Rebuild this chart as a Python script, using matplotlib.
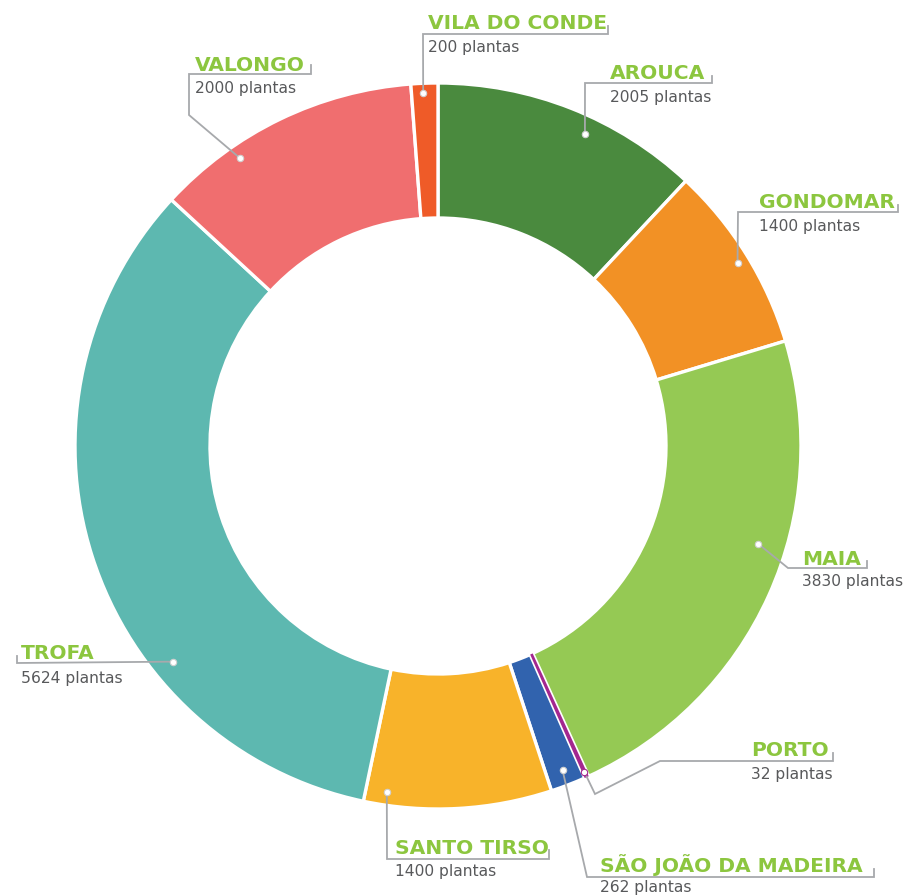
from matplotlib import pyplot as plt
import numpy as np

# plantings per municipality, clockwise from the top
municipios = ["AROUCA", "GONDOMAR", "MAIA", "PORTO", "SÃO JOÃO DA MADEIRA",
              "SANTO TIRSO", "TROFA", "VALONGO", "VILA DO CONDE"]
plantas = [2005, 1400, 3830, 32, 262, 1400, 5624, 2000, 200]
cores = ["#4a8a3e", "#f29125", "#95c954", "#a3278f", "#3163ae",
         "#f8b32a", "#5db8b0", "#f06e6f", "#ef5b28"]

W, H = 906, 896
cx, cy = 438, 446          # donut centre (pixels from top-left)
r_out, r_in = 363, 228

# label layout in pixels: dot (fraction along slice, radius), route of the
# leader line after the dot, text x, title baseline, value baseline
layout = {
    "AROUCA":        (0.585, 345, [(585, 83), (712, 83), (712, 76)], 610, 79, 102),
    "GONDOMAR":      (0.515, 351, [(738, 212), (898, 212), (898, 205)], 759, 208, 231),
    "MAIA":          (0.411, 335, [(788, 568), (867, 568), (867, 561)], 802, 565, 586),
    "PORTO":         (0.5, 357, [(595, 794), (660, 761), (833, 761), (833, 753)], 751, 756, 779),
    "SÃO JOÃO DA MADEIRA": (0.5, 347, [(587, 877), (874, 877), (874, 869)], 600, 872, 892),
    "SANTO TIRSO":   (0.885, 350, [(387, 859), (549, 859), (549, 850)], 395, 854, 876),
    "TROFA":         (0.323, 342, [(17, 663), (17, 656)], 21, 659, 683),
    "VALONGO":       (0.297, 349, [(189, 115), (189, 74), (311, 74), (311, 65)], 195, 71, 93),
    "VILA DO CONDE": (0.44, 353, [(423, 34), (608, 34), (608, 26)], 428, 29, 52),
}

verde = "#8cc63f"
cinza_txt = "#58595b"
cinza_linha = "#a7a9ac"

fig = plt.figure(figsize=(W / 100, H / 100), dpi=100)
ax = fig.add_axes([0, 0, 1, 1])

wedges, _ = ax.pie(plantas, colors=cores, startangle=90, counterclock=False,
                   radius=r_out, center=(cx, H - cy),
                   wedgeprops=dict(width=r_out - r_in, edgecolor="white", linewidth=2.4))
# keep the tiny Porto slice visible
wedges[3].set_linewidth(0)
wedges[3].set_zorder(5)

ax.set_xlim(0, W)
ax.set_ylim(0, H)
ax.set_aspect("equal")
ax.axis("off")

for w, nome, val in zip(wedges, municipios, plantas):
    frac, rad, route, tx, tb, vb = layout[nome]
    ang = np.deg2rad(w.theta2 - frac * (w.theta2 - w.theta1))
    dx = cx + rad * np.cos(ang)
    dy = H - cy + rad * np.sin(ang)
    xs = [dx] + [p[0] for p in route]
    ys = [dy] + [H - p[1] for p in route]
    ax.plot(xs, ys, color=cinza_linha, lw=1.3, zorder=6, solid_joinstyle="miter")
    ax.plot(dx, dy, "o", ms=4.6, mfc="white", mec="#d0d0d0" if nome != "PORTO" else cores[3],
            mew=0.8, zorder=7)
    ax.text(tx, H - tb, nome, color=verde, fontsize=14.6, fontweight="bold",
            family="DejaVu Sans", va="baseline", ha="left", zorder=8)
    ax.text(tx, H - vb, f"{val} plantas", color=cinza_txt, fontsize=11.2,
            family="DejaVu Sans", va="baseline", ha="left", zorder=8)

fig.savefig("out.png", dpi=100, facecolor="white")
